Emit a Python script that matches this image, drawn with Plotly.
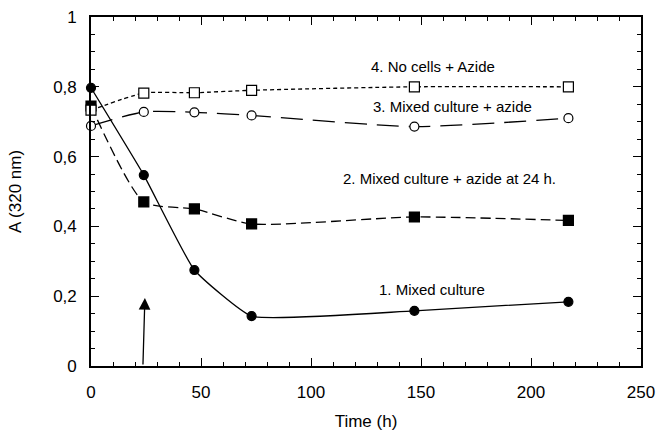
import plotly.graph_objects as go

time_h = [0, 24, 47, 73, 147, 217]
s1_mixed = [0.797, 0.547, 0.275, 0.143, 0.158, 0.184]
s2_azide24 = [0.745, 0.47, 0.45, 0.407, 0.427, 0.417]
s3_mixed_azide = [0.688, 0.728, 0.727, 0.718, 0.686, 0.71]
s4_nocells = [0.733, 0.782, 0.783, 0.79, 0.80, 0.80]

labels = ["1. Mixed culture", "2. Mixed culture + azide at 24 h.",
          "3. Mixed culture + azide", "4. No cells + Azide"]
label_x = [155, 163, 164.5, 155.5]
label_y = [0.218, 0.538, 0.745, 0.857]

FONT = "Liberation Sans, Arial, sans-serif"

fig = go.Figure()
series = [
    (s1_mixed, "circle", "black", "solid", 0.4),
    (s2_azide24, "square", "black", "10px,5px", 0.6),
    (s3_mixed_azide, "circle", "white", "22px,10px", 0.6),
    (s4_nocells, "square", "white", "4px,3px", 0.6),
]
for vals, sym, fill, dash, sm in series:
    fig.add_trace(go.Scatter(
        x=time_h, y=vals, mode="lines+markers", cliponaxis=False,
        line=dict(color="black", width=1.3, dash=dash, shape="spline", smoothing=sm),
        marker=dict(symbol=sym, size=9 if sym == "circle" else 10, color=fill,
                    line=dict(color="black", width=1.2)),
        showlegend=False,
    ))

for t, x, y in zip(labels, label_x, label_y):
    fig.add_annotation(x=x, y=y, text=t, showarrow=False,
                       font=dict(family=FONT, size=15, color="black"))

fig.add_annotation(x=24.5, y=0.195, ax=23.6, ay=0, axref="x", ayref="y",
                   xref="x", yref="y", text="", showarrow=True,
                   arrowhead=2, arrowsize=1.8, arrowwidth=1.3, arrowcolor="black")

fig.update_layout(
    width=656, height=433,
    margin=dict(l=91, r=15, t=17, b=67),
    paper_bgcolor="white", plot_bgcolor="white",
    separators=", ",
    font=dict(family=FONT, size=17, color="black"),
    xaxis=dict(
        range=[0, 250], tickvals=[0, 50, 100, 150, 200, 250],
        ticks="inside", ticklen=8, tickwidth=1.3, tickcolor="black",
        minor=dict(dtick=10, ticks="inside", ticklen=4, tickwidth=1.2, tickcolor="black"),
        showline=True, linecolor="black", linewidth=1.6, mirror="allticks",
        showgrid=False, zeroline=False, automargin=False,
        ticklabelstandoff=10,
        title=dict(text="Time (h)", font=dict(size=17), standoff=14),
        tickfont=dict(size=17),
    ),
    yaxis=dict(
        range=[0, 1], tickvals=[0, 0.2, 0.4, 0.6, 0.8, 1],
        ticktext=["0", "0,2", "0,4", "0,6", "0,8", "1"],
        ticks="inside", ticklen=8, tickwidth=1.3, tickcolor="black",
        minor=dict(dtick=0.05, ticks="inside", ticklen=4, tickwidth=1.2, tickcolor="black"),
        showline=True, linecolor="black", linewidth=1.6, mirror="allticks",
        showgrid=False, zeroline=False, automargin=False,
        ticklabelstandoff=9,
        title=dict(text="A (320 nm)", font=dict(size=17), standoff=27),
        tickfont=dict(size=17),
    ),
)

fig.write_html("out.html")
